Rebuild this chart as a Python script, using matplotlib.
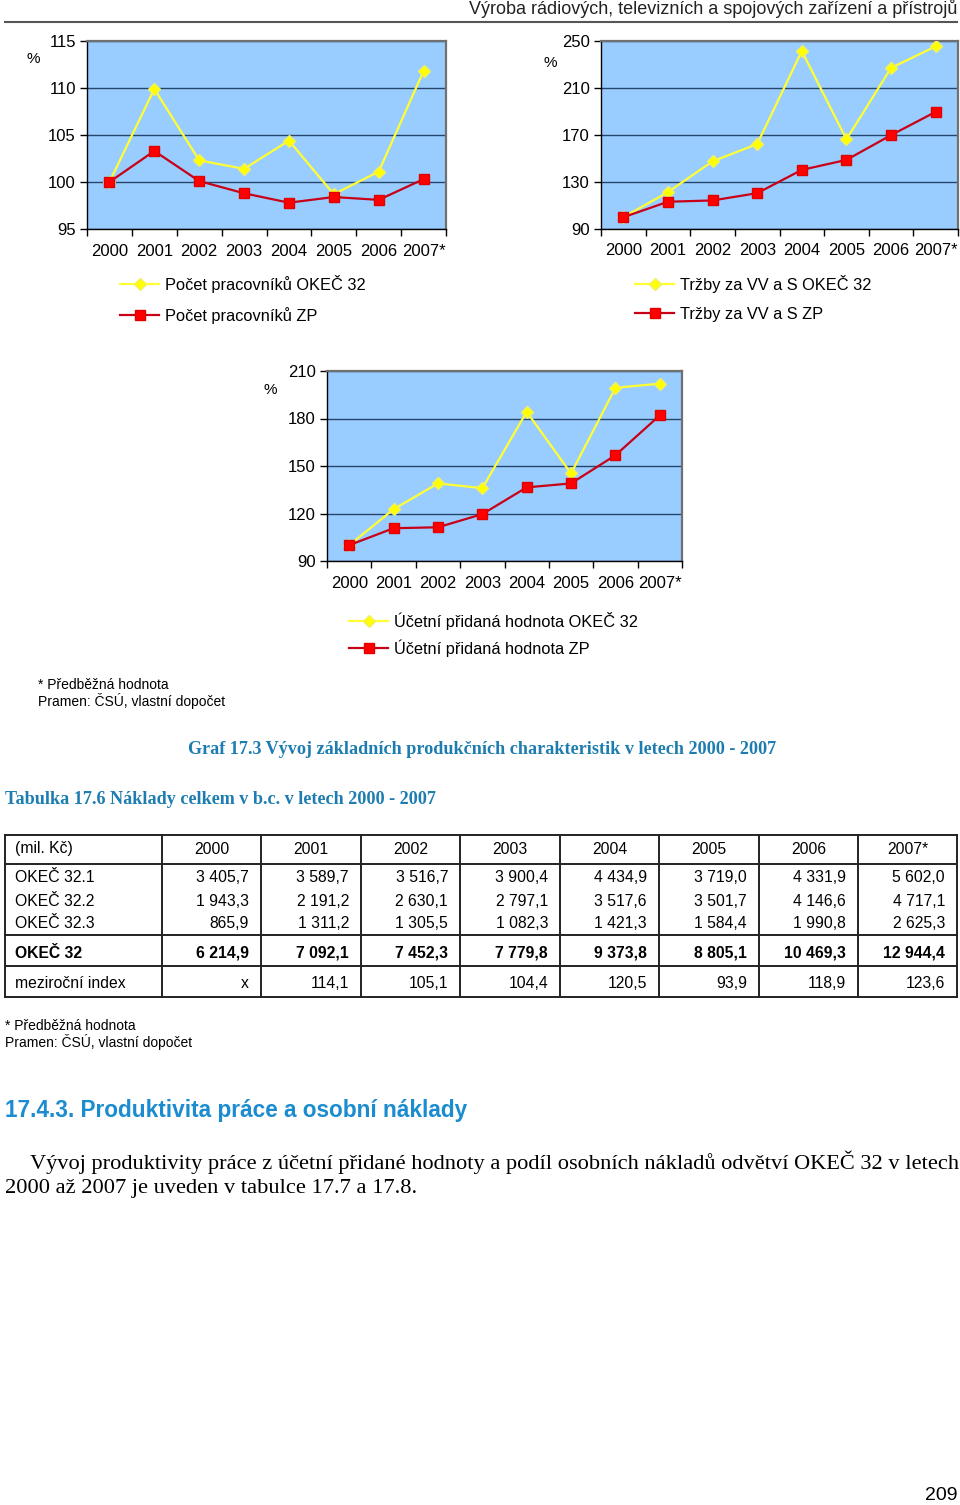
import numpy as np
import matplotlib
matplotlib.use('Agg')
import matplotlib.pyplot as plt
from matplotlib.ticker import FixedLocator, NullFormatter

plt.rcParams['font.family'] = ['Liberation Sans', 'DejaVu Sans']

# ---- data ----
years = ['2000', '2001', '2002', '2003', '2004', '2005', '2006', '2007*']

workers_okec = [100, 109.9, 102.3, 101.4, 104.4, 98.7, 101.1, 111.8]
workers_zp = [100, 103.3, 100.1, 98.8, 97.8, 98.4, 98.1, 100.3]

sales_okec = [100, 121.4, 147.6, 162.3, 241.5, 166.3, 227.1, 245.5]
sales_zp = [100, 113.2, 114.3, 120.5, 140.3, 148.8, 169.9, 189.7]

added_okec = [100, 122.7, 139.0, 136.0, 184.2, 145.3, 199.4, 202.0]
added_zp = [100, 110.7, 111.3, 119.6, 136.5, 139.0, 156.8, 182.0]

table_head = ['(mil. Kč)', '2000', '2001', '2002', '2003', '2004', '2005', '2006', '2007*']
row_labels = ['OKEČ 32.1', 'OKEČ 32.2', 'OKEČ 32.3', 'OKEČ 32', 'meziroční index']
okec321 = ['3 405,7', '3 589,7', '3 516,7', '3 900,4', '4 434,9', '3 719,0', '4 331,9', '5 602,0']
okec322 = ['1 943,3', '2 191,2', '2 630,1', '2 797,1', '3 517,6', '3 501,7', '4 146,6', '4 717,1']
okec323 = ['865,9', '1 311,2', '1 305,5', '1 082,3', '1 421,3', '1 584,4', '1 990,8', '2 625,3']
okec32 = ['6 214,9', '7 092,1', '7 452,3', '7 779,8', '9 373,8', '8 805,1', '10 469,3', '12 944,4']
yoy_index = ['x', '114,1', '105,1', '104,4', '120,5', '93,9', '118,9', '123,6']

W, H = 960, 1505
fig = plt.figure(figsize=(W / 100, H / 100), dpi=100)

# page overlay in pixel coordinates
page = fig.add_axes([0, 0, 1, 1], zorder=-1)
page.set_xlim(0, W)
page.set_ylim(H, 0)
page.axis('off')


def px_axes(l, t, r, b):
    return fig.add_axes([l / W, 1 - b / H, (r - l) / W, (b - t) / H])


def line_chart(ax, s1, s2, ylim, yticks, xpad=11):
    x = np.arange(len(years))
    ax.set_facecolor('#99CCFF')
    ax.plot(x, s1, color='#FFFF33', lw=1.6, marker='D', ms=6.5,
            mfc='#FFFF00', mec='#F0F060', zorder=3)
    ax.plot(x, s2, color='#C80018', lw=1.6, marker='s', ms=7,
            mfc='#FF0000', mec='#E00000', zorder=4)
    ax.set_xlim(-0.5, len(years) - 0.5)
    ax.set_ylim(*ylim)
    ax.set_yticks(yticks)
    ax.grid(axis='y', color='#24466B', lw=1.0)
    ax.set_axisbelow(True)
    ax.set_xticks(x)
    ax.set_xticklabels(years)
    ax.xaxis.set_minor_locator(FixedLocator(np.arange(-0.5, len(years), 1)))
    ax.xaxis.set_minor_formatter(NullFormatter())
    ax.tick_params(axis='x', which='major', length=0, pad=xpad, labelsize=12)
    ax.tick_params(axis='x', which='minor', length=5, width=1, color='black')
    ax.tick_params(axis='y', length=5, width=1, pad=3, labelsize=12)
    for s in ['left', 'bottom']:
        ax.spines[s].set_color('black')
        ax.spines[s].set_linewidth(1.0)
    for s in ['top', 'right']:
        ax.spines[s].set_color('#707070')
        ax.spines[s].set_linewidth(1.6)
    return ax


def add_legend(ax, labels, x0, y0, spacing):
    ax.legend(labels, loc='upper left', bbox_to_anchor=(x0 / W, 1 - y0 / H),
              bbox_transform=fig.transFigure, frameon=False, fontsize=11.8,
              borderpad=0, borderaxespad=0, handlelength=2.4,
              handletextpad=0.35, labelspacing=spacing)


ax1 = line_chart(px_axes(87, 41, 446, 229), workers_okec, workers_zp,
                 (95, 115), [95, 100, 105, 110, 115])
add_legend(ax1, ['Počet pracovníků OKEČ 32', 'Počet pracovníků ZP'], 120, 275, 0.85)

ax2 = line_chart(px_axes(601, 41, 958, 229), sales_okec, sales_zp,
                 (90, 250), [90, 130, 170, 210, 250], xpad=10)
add_legend(ax2, ['Tržby za VV a S OKEČ 32', 'Tržby za VV a S ZP'], 635, 275, 0.85)

ax3 = line_chart(px_axes(327, 371, 682, 561), added_okec, added_zp,
                 (90, 210), [90, 120, 150, 180, 210])
add_legend(ax3, ['Účetní přidaná hodnota OKEČ 32', 'Účetní přidaná hodnota ZP'], 349, 612, 0.55)

# percent labels
page.text(33, 59, '%', fontsize=11, ha='center', va='center')
page.text(550, 63, '%', fontsize=11, ha='center', va='center')
page.text(270, 390, '%', fontsize=11, ha='center', va='center')

# header
page.text(957, 9, 'Výroba rádiových, televizních a spojových zařízení a přístrojů',
          fontsize=12.95, ha='right', va='center', color='#222222')
page.plot([5, 957], [22, 22], color='#555555', lw=1.5)

# notes under charts
page.text(38, 685, '* Předběžná hodnota', fontsize=10, va='center')
page.text(38, 701, 'Pramen: ČSÚ, vlastní dopočet', fontsize=10, va='center')

blue = '#1D7DB0'
page.text(188, 750, 'Graf 17.3 Vývoj základních produkčních charakteristik v letech 2000 - 2007',
          family='Liberation Serif', fontweight='bold', fontsize=13.05, color=blue, va='center')
page.text(5, 800, 'Tabulka 17.6 Náklady celkem v b.c. v letech 2000 - 2007',
          family='Liberation Serif', fontweight='bold', fontsize=13.05, color=blue, va='center')

# table
col_edges = [5, 162, 261, 361, 460, 560, 659, 759, 858, 957]
row_edges = [835, 864, 935, 966, 997]
for xe in col_edges:
    page.plot([xe, xe], [row_edges[0], row_edges[-1]], color='#222222', lw=1.4)
for ye in row_edges:
    page.plot([col_edges[0], col_edges[-1]], [ye, ye], color='#222222', lw=1.4)

fs_tab = 11.3
for i, h in enumerate(table_head):
    if i == 0:
        page.text(15, 849, h, fontsize=fs_tab, va='center')
    else:
        page.text((col_edges[i] + col_edges[i + 1]) / 2, 849, h, fontsize=fs_tab,
                  ha='center', va='center')

rows = [okec321, okec322, okec323, okec32, yoy_index]
row_y = [878, 901, 924, 953, 983]
for lab, vals, y in zip(row_labels, rows, row_y):
    wt = 'bold' if lab == 'OKEČ 32' else 'normal'
    page.text(15, y, lab, fontsize=fs_tab, va='center', fontweight=wt)
    for j, v in enumerate(vals):
        page.text(col_edges[j + 2] - 12, y, v, fontsize=fs_tab, ha='right',
                  va='center', fontweight=wt)

page.text(5, 1026, '* Předběžná hodnota', fontsize=10, va='center')
page.text(5, 1042, 'Pramen: ČSÚ, vlastní dopočet', fontsize=10, va='center')

page.text(5, 1111, '17.4.3. Produktivita práce a osobní náklady', fontsize=16.3,
          fontweight='bold', color='#1A8CCF', va='center')

page.text(30, 1162, 'Vývoj produktivity práce z účetní přidané hodnoty a podíl osobních '
          'nákladů odvětví OKEČ 32 v letech', family='Liberation Serif', fontsize=16.1,
          va='center')
page.text(5, 1188, '2000 až 2007 je uveden v tabulce 17.7 a 17.8.',
          family='Liberation Serif', fontsize=16.1, va='center')

page.text(958, 1495, '209', fontsize=14, ha='right', va='center')

fig.savefig('out.png', dpi=100)
